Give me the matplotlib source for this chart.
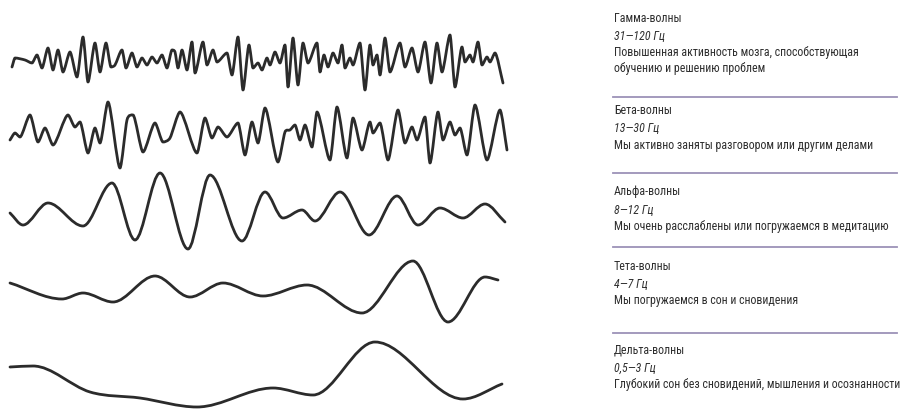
import matplotlib
matplotlib.use("Agg")
import matplotlib.pyplot as plt
from matplotlib import font_manager
from matplotlib.path import Path
from matplotlib.patches import PathPatch

# wave traces: horizontal position, vertical position (px)
gamma_t = [12, 15, 25, 32, 37, 42, 48, 53, 58, 63, 70, 77, 83, 88, 95, 100, 106, 111, 115, 122,
           126, 132, 137, 142, 147, 152, 157, 162, 167, 172, 175, 178, 182, 187, 192, 195, 203,
           207, 213, 217, 227, 232, 238, 243, 249, 253, 258, 262, 267, 270, 275, 280, 285, 288,
           293, 298, 303, 308, 317, 320, 324, 328, 333, 338, 342, 345, 350, 353, 360, 365, 370,
           373, 377, 380, 385, 390, 400, 405, 412, 418, 425, 431, 437, 442, 450, 455, 462, 465,
           470, 473, 478, 482, 487, 490, 495, 503]
gamma_v = [67, 58, 60, 63, 55, 68, 48, 70, 50, 72, 52, 77, 37, 82, 43, 72, 43, 67, 65, 50,
           68, 53, 67, 58, 65, 57, 63, 55, 68, 50, 52, 68, 50, 70, 42, 73, 42,
           65, 50, 62, 53, 75, 37, 90, 45, 68, 63, 70, 58, 65, 52, 63, 45, 87,
           38, 85, 43, 63, 43, 72, 55, 67, 53, 63, 45, 68, 58, 65, 43, 90, 45,
           65, 55, 75, 38, 72, 43, 67, 48, 72, 42, 83, 43, 72, 35, 87, 47, 62,
           55, 62, 42, 65, 57, 62, 53, 83]

beta_t = [10, 15, 20, 30, 38, 45, 53, 68, 75, 80, 88, 95, 100, 108, 120, 127, 133, 143, 155,
          163, 170, 180, 197, 205, 212, 218, 227, 238, 245, 252, 258, 265, 278, 285, 290, 295,
          300, 305, 312, 317, 330, 337, 347, 353, 362, 370, 373, 380, 388, 398, 405, 412, 417,
          425, 430, 438, 443, 450, 455, 460, 467, 475, 487, 500, 507]
beta_v = [140, 133, 137, 115, 142, 128, 145, 115, 127, 122, 153, 128, 143, 102, 168, 120, 115,
          152, 123, 142, 138, 112, 153, 118, 138, 127, 137, 123, 155, 122, 143, 108, 162, 132,
          130, 125, 140, 125, 147, 112, 160, 107, 158, 118, 150, 122, 133, 123, 160, 110, 143,
          127, 140, 117, 163, 112, 140, 122, 135, 128, 155, 105, 160, 110, 150]

alpha_t = [10, 23, 48, 83, 112, 135, 160, 188, 210, 242, 265, 283, 302, 315, 340, 369, 397,
           418, 440, 463, 485, 505]
alpha_v = [213, 225, 203, 226, 183, 240, 173, 249, 175, 241, 192, 218, 210, 221, 192, 235, 196,
           225, 208, 218, 204, 222]

theta_t = [10, 62, 83, 113, 155, 190, 223, 263, 307, 362, 413, 448, 485, 498]
theta_v = [283, 299, 293, 302, 276, 297, 283, 296, 285, 313, 261, 322, 277, 280]

delta_t = [10, 33, 90, 140, 197, 273, 313, 375, 463, 502]
delta_v = [367, 366, 392, 398, 407, 388, 395, 342, 399, 384]

names = ["Гамма-волны", "Бета-волны", "Альфа-волны", "Тета-волны", "Дельта-волны"]
bands = ["31—120 Гц", "13—30 Гц", "8—12 Гц", "4—7 Гц", "0,5—3 Гц"]
notes = ["Повышенная активность мозга, способствующая\nобучению и решению проблем",
         "Мы активно заняты разговором или другим делами",
         "Мы очень расслаблены или погружаемся в медитацию",
         "Мы погружаемся в сон и сновидения",
         "Глубокий сон без сновидений, мышления и осознанности"]

# pick a narrow face if there is one
installed = {f.name for f in font_manager.fontManager.ttflist}
narrow = next((f for f in ["Liberation Sans Narrow", "Roboto Condensed", "DejaVu Sans Condensed"]
               if f in installed), "Liberation Sans")


def wave_path(t, v, k=1/3):
    """Bezier path through the read points, flat tangent at each peak/trough."""
    n = len(t)
    m = []
    for i in range(n):
        if i == 0:
            m.append((v[1] - v[0]) / (t[1] - t[0]))
        elif i == n - 1:
            m.append((v[-1] - v[-2]) / (t[-1] - t[-2]))
        elif (v[i] - v[i-1]) * (v[i+1] - v[i]) <= 0:
            m.append(0.0)
        else:
            m.append((v[i+1] - v[i-1]) / (t[i+1] - t[i-1]))
    verts = [(t[0], v[0])]
    codes = [Path.MOVETO]
    for i in range(n - 1):
        h = (t[i+1] - t[i]) * k
        verts += [(t[i] + h, v[i] + m[i] * h), (t[i+1] - h, v[i+1] - m[i+1] * h), (t[i+1], v[i+1])]
        codes += [Path.CURVE4] * 3
    return Path(verts, codes)


fig = plt.figure(figsize=(9.08, 4.09), dpi=100)
ax = fig.add_axes([0, 0, 1, 1])
ax.set_xlim(0, 908)
ax.set_ylim(409, 0)
ax.axis("off")

ink = "#2b2b2b"
for t, v, k in [(gamma_t, gamma_v, 0.25), (beta_t, beta_v, 0.25), (alpha_t, alpha_v, 1/3),
                (theta_t, theta_v, 1/3), (delta_t, delta_v, 1/3)]:
    ax.add_patch(PathPatch(wave_path(t, v, k), fill=False, edgecolor=ink, lw=2.0,
                           capstyle="round", joinstyle="round"))

txt = "#2e2e2e"
fs = 8.6
tops = [18, 111, 192, 266, 350]
for i, (nm, bd, nt) in enumerate(zip(names, bands, notes)):
    y0 = tops[i]
    ax.text(614, y0, nm, fontsize=fs, family=narrow, color=txt, va="center")
    ax.text(614, y0 + 18, bd, fontsize=fs, family=narrow, style="italic", color=txt, va="center")
    ax.text(614, y0 + 36 - 8, nt, fontsize=fs, family=narrow, color=txt, va="top",
            linespacing=1.26)
for y in [97, 173, 247, 333]:
    ax.plot([613, 897], [y, y], color="#9c92b8", lw=1.3)

fig.savefig("out.png", dpi=100)
